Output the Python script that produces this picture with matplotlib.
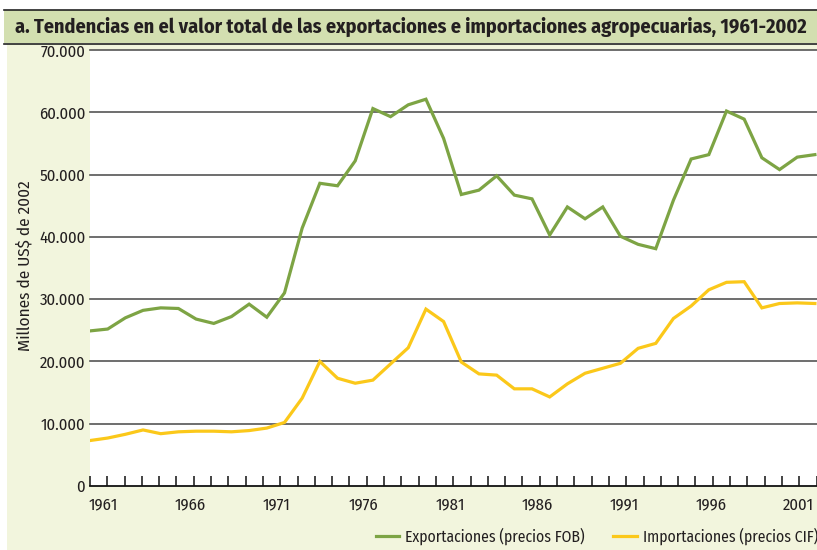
import matplotlib
matplotlib.use("Agg")
import matplotlib.pyplot as plt
from matplotlib.patches import Rectangle
from matplotlib.lines import Line2D

years = list(range(1961, 2003))
exports = [24.9, 25.2, 27.0, 28.2, 28.6, 28.5, 26.8, 26.1, 27.2, 29.2,
           27.1, 31.0, 41.4, 48.6, 48.2, 52.2, 60.6, 59.3, 61.2, 62.1,
           55.8, 46.8, 47.5, 49.8, 46.7, 46.1, 40.3, 44.8, 42.9, 44.8,
           40.1, 38.8, 38.1, 45.9, 52.5, 53.2, 60.2, 58.9, 52.7, 50.8,
           52.8, 53.2]
imports = [7.3, 7.7, 8.3, 9.0, 8.4, 8.7, 8.8, 8.8, 8.7, 8.9,
           9.3, 10.2, 14.1, 20.0, 17.3, 16.5, 17.0, 19.6, 22.2, 28.4,
           26.4, 19.9, 18.0, 17.8, 15.6, 15.6, 14.3, 16.4, 18.1, 18.9,
           19.7, 22.1, 22.9, 26.9, 28.9, 31.5, 32.7, 32.8, 28.6, 29.3,
           29.4, 29.3]
exports = [v * 1000 for v in exports]
imports = [v * 1000 for v in imports]
ytick_vals = [0, 10000, 20000, 30000, 40000, 50000, 60000, 70000]
ytick_labels = ["0", "10.000", "20.000", "30.000", "40.000", "50.000", "60.000", "70.000"]
xtick_labels = ["1961", "1966", "1971", "1976", "1981", "1986", "1991", "1996", "2001"]

GREEN = "#7da444"
YELLOW = "#fbc81a"
CREAM = "#f2f5dd"
BAR = "#d3dfb0"
TXT = "#231f20"

W, H = 817, 550
fig = plt.figure(figsize=(W / 100, H / 100), dpi=100)
fig.patch.set_facecolor("white")

def fx(px):
    return px / W

def fy(py):
    return 1 - py / H

fig.patches.append(Rectangle((fx(7), 0), 1 - fx(7), fy(44), transform=fig.transFigure,
                             facecolor=CREAM, edgecolor="none", zorder=-3))
fig.patches.append(Rectangle((fx(4), fy(43)), 1 - fx(4), fy(10) - fy(43), transform=fig.transFigure,
                             facecolor=BAR, edgecolor="none", zorder=-3))
fig.lines.append(Line2D([fx(4), 1], [fy(10), fy(10)], transform=fig.transFigure, color="#222", lw=1.2, zorder=-2))
fig.lines.append(Line2D([fx(4), 1], [fy(43.5), fy(43.5)], transform=fig.transFigure, color="#222", lw=1.2, zorder=-2))

title_font = ["Fira Sans Condensed", "DejaVu Sans"]
fig.text(fx(15), fy(27), "a. Tendencias en el valor total de las exportaciones e importaciones agropecuarias, 1961-2002",
         family=title_font, fontweight="bold", fontsize=14.5, color=TXT, va="center", ha="left")

ax_left, ax_right, ax_top, ax_bot = 90, 816.5, 50, 486
ax = fig.add_axes([fx(ax_left), fy(ax_bot), fx(ax_right - ax_left), fy(ax_top) - fy(ax_bot)])
ax.set_zorder(2)
ax.set_facecolor("white")

pxyr = (815 - 90) / 41.0
xmax = 1961 + (ax_right - ax_left) / pxyr
ax.set_xlim(1961, xmax)
ax.set_ylim(0, 70000)

for v in ytick_vals[1:]:
    ax.axhline(v, color="#555555", lw=1.2, zorder=1, clip_on=False)

ax.plot(years, exports, color=GREEN, lw=2.3, zorder=3, solid_joinstyle="miter",
        label="Exportaciones (precios FOB)")
ax.plot(years, imports, color=YELLOW, lw=2.3, zorder=3, solid_joinstyle="miter",
        label="Importaciones (precios CIF)")

for s in ["top", "right", "left"]:
    ax.spines[s].set_visible(False)
ax.spines["bottom"].set_color("#111")
ax.spines["bottom"].set_linewidth(1.3)

tick_font = ["Fira Sans Condensed", "DejaVu Sans"]
ax.set_yticks(ytick_vals)
ax.set_yticklabels(ytick_labels, family=tick_font, fontsize=12, color=TXT)
ax.tick_params(axis="y", length=0, pad=3.5)

tick_pos = [1961 + i * (17.3 / pxyr) for i in range(43)]
ax.set_xticks(tick_pos, minor=True)
ax.tick_params(axis="x", which="minor", direction="in", length=7, width=1.1, color="#111")
label_pos = [1961 + 13 / pxyr + k * 5 * (17.38 / pxyr) for k in range(len(xtick_labels))]
ax.set_xticks(label_pos)
ax.set_xticklabels(xtick_labels, family=tick_font, fontsize=12, color=TXT)
ax.tick_params(axis="x", which="major", length=0, pad=8)

fig.text(fx(25), fy(266), "Millones de US$ de 2002", rotation=90, family=tick_font,
         fontsize=12.3, color=TXT, ha="center", va="center")

leg = fig.legend(loc="center", bbox_to_anchor=(fx(597), fy(536)), ncol=2, frameon=False,
                 prop={"family": tick_font, "size": 11.3}, handlelength=1.5, handletextpad=0.4,
                 columnspacing=1.8)
for t in leg.get_texts():
    t.set_color(TXT)

fig.savefig("out.png", dpi=100, facecolor=fig.get_facecolor())
